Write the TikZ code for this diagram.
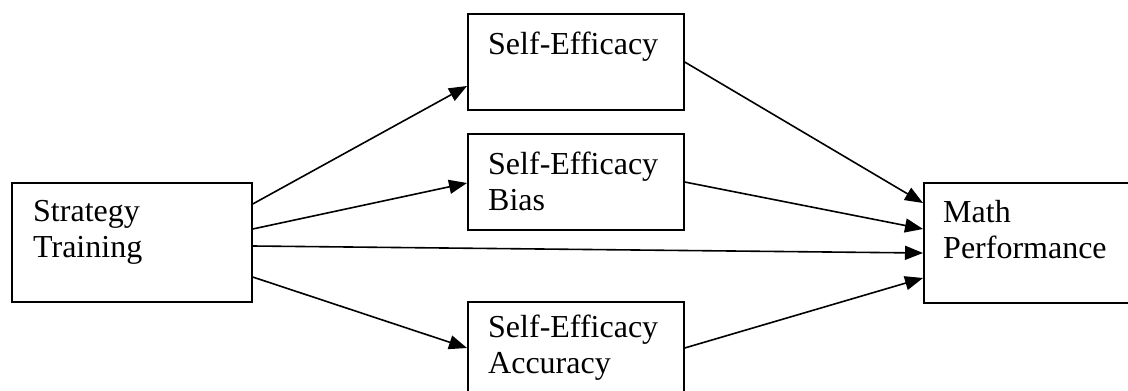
\documentclass[tikz,border=0pt]{standalone}
\usepackage{fontspec}
\setmainfont{Liberation Serif}
\usetikzlibrary{arrows.meta}
\begin{document}
\begin{tikzpicture}[x=1pt,y=-1pt,
  box/.style={draw,line width=1.7pt,rectangle,inner sep=0pt,anchor=north west},
  lbl/.style={anchor=base west,inner sep=0pt,align=left,
    font=\fontsize{32}{36}\selectfont},
  arr/.style={line width=1.6pt,-{Triangle[length=18pt,width=14pt]}}]
\useasboundingbox (0,0) rectangle (1128,391);
\begin{scope}
\clip (0,0) rectangle (1128,391);
% boxes
\node[box,minimum width=240pt,minimum height=119pt] (st) at (11,182) {};
\node[box,minimum width=216pt,minimum height=96pt] (se) at (467,13) {};
\node[box,minimum width=216pt,minimum height=96pt] (sb) at (467,133) {};
\node[box,minimum width=216pt,minimum height=120pt] (sa) at (467,301) {};
\node[box,minimum width=240pt,minimum height=120pt] (mp) at (923,182) {};
\end{scope}
% labels (base anchor sits on the last line)
\node[lbl] (tst) at (33,257) {Strategy\\Training};
\node[lbl] (tse) at (488,54) {Self-Efficacy};
\node[lbl] (tsb) at (488,210) {Self-Efficacy\\Bias};
\node[lbl] (tsa) at (488,373) {Self-Efficacy\\Accuracy};
\node[lbl] (tmp) at (943,258) {Math\\Performance};
% paths
\draw[arr] (st.east |- 0,204) -- (se.west |- 0,86);
\draw[arr] (st.east |- 0,229) -- (sb.west |- 0,183);
\draw[arr] (st.east |- 0,246) -- (mp.west |- 0,253);
\draw[arr] (st.east |- 0,277) -- (sa.west |- 0,348);
\draw[arr] (se.east |- 0,62) -- (mp.west |- 0,203);
\draw[arr] (sb.east |- 0,182) -- (mp.west |- 0,229);
\draw[arr] (sa.east |- 0,348) -- (mp.west |- 0,278);
\end{tikzpicture}
\end{document}
